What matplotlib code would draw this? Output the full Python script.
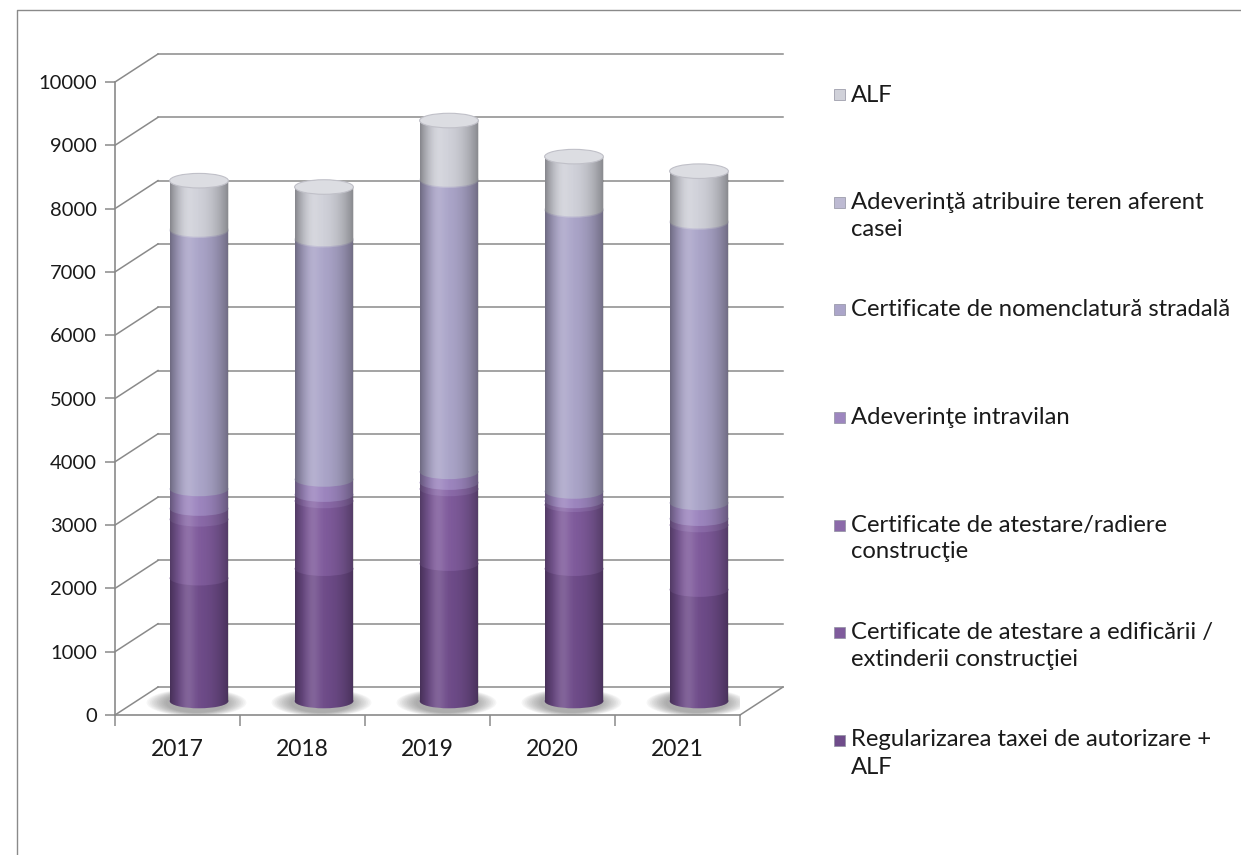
import numpy as np
import matplotlib.pyplot as plt
from matplotlib.patches import Ellipse, Rectangle, PathPatch
from matplotlib.path import Path
from matplotlib.lines import Line2D

plt.rcParams['font.family'] = ['Lato', 'DejaVu Sans']

years = ['2017', '2018', '2019', '2020', '2021']
regularizare = [1940, 2090, 2170, 2090, 1760]
edificare = [930, 1070, 1180, 1010, 1020]
radiere = [170, 100, 100, 60, 100]
intravilan = [310, 240, 170, 150, 250]
nomenclatura = [4080, 3780, 4600, 4440, 4430]
atribuire = [20, 20, 20, 20, 20]
alf = [770, 820, 930, 830, 790]

series = [regularizare, edificare, radiere, intravilan, nomenclatura, atribuire, alf]
labels = ['Regularizarea taxei de autorizare +\nALF',
          'Certificate de atestare a edificării /\nextinderii construcţiei',
          'Certificate de atestare/radiere\nconstrucţie',
          'Adeverinţe intravilan',
          'Certificate de nomenclatură stradală',
          'Adeverinţă atribuire teren aferent\ncasei',
          'ALF']
colors = ['#6f4c8a', '#7f5b9c', '#8b6aa9', '#9d86bf', '#aba5c9', '#bdbad2', '#d0d1d9']
yticks = list(range(0, 10001, 1000))

# pseudo 3d geometry (data units)
DX = 0.344     # depth shift in x
DY = 442       # depth shift in y
EH = 230       # ellipse height of cylinder caps
W = 0.47       # cylinder width

fig = plt.figure(figsize=(12.41, 8.55), dpi=100)
ax = fig.add_axes([115/1241, 140/855, 625/1241, 633/855])
ax.set_facecolor('none')

gcol = '#8a8a8a'
# back wall grid + side wall diagonals
for v in yticks:
    ax.plot([DX, 5 + DX], [v + DY, v + DY], color=gcol, lw=1.1, clip_on=False, zorder=1)
    ax.plot([0, DX], [v, v + DY], color=gcol, lw=1.1, clip_on=False, zorder=1)
ax.plot([5, 5 + DX], [0, DY], color=gcol, lw=1.1, clip_on=False, zorder=1)

xc = np.arange(len(years)) + 0.5 + DX / 2
base = np.full(len(years), DY / 2.0)

# soft shadows under cylinders
for j in range(len(years)):
    for s in np.linspace(1.7, 1.05, 12):
        ax.add_patch(Ellipse((xc[j] - 0.02, base[j] - 25), W * s, EH * (0.6 + s * 0.75),
                             color='#5a5a5a', alpha=0.05, lw=0, zorder=2))

cum = base.copy()
for vals, c in zip(series, colors):
    ax.bar(xc, vals, W, bottom=cum, color=c, lw=0, zorder=3, clip_on=False)
    for j in range(len(years)):
        ax.add_patch(Ellipse((xc[j], cum[j]), W, EH, color=c, lw=0, zorder=3, clip_on=False))
    cum = cum + np.array(vals)

# cylindrical shading
t = np.linspace(0, 1, 128)
d = np.where(t > 0.38, (t - 0.38) / 0.62, (0.38 - t) / 0.38)
dark = np.zeros((1, 128, 4))
dark[..., 3] = 0.36 * d ** 2.3
light = np.ones((1, 128, 4))
light[..., 3] = 0.14 * np.exp(-((t - 0.3) / 0.13) ** 2)
th = np.linspace(np.pi, 2 * np.pi, 40)
for j in range(len(years)):
    x0, x1 = xc[j] - W / 2, xc[j] + W / 2
    pts = [(x0, cum[j]), (x0, base[j])]
    pts += [(xc[j] + W / 2 * np.cos(a), base[j] + EH / 2 * np.sin(a)) for a in th]
    pts += [(x1, cum[j]), (x0, cum[j])]
    clip = PathPatch(Path(pts), transform=ax.transData, facecolor='none', lw=0)
    ax.add_patch(clip)
    for img in (dark, light):
        im = ax.imshow(img, extent=[x0, x1, base[j] - EH / 2, cum[j]], aspect='auto',
                       interpolation='bilinear', zorder=4, clip_on=True)
        im.set_clip_path(clip)
    ax.add_patch(Ellipse((xc[j], cum[j]), W, EH, facecolor='#dcdde2', edgecolor='#c0c0c8',
                         lw=0.8, zorder=5, clip_on=False))

ax.set_xlim(0, 5)
ax.set_ylim(0, 10000)

for s in ['top', 'right']:
    ax.spines[s].set_visible(False)
for s in ['left', 'bottom']:
    ax.spines[s].set_color(gcol)
    ax.spines[s].set_linewidth(1.2)
    ax.spines[s].set_zorder(6)

ax.set_yticks(yticks)
ax.set_yticklabels([str(v) for v in yticks])
ax.tick_params(axis='y', length=7, width=1.1, color=gcol, labelsize=14.5, pad=6, labelcolor='#1a1a1a')
ax.set_xticks(range(6))
ax.set_xticklabels([])
ax.set_xticks(np.arange(len(years)) + 0.5, minor=True)
ax.set_xticklabels(years, minor=True)
ax.tick_params(axis='x', which='major', length=8, width=1.1, color=gcol)
ax.tick_params(axis='x', which='minor', length=0, labelsize=16.5, pad=17, labelcolor='#1a1a1a')

# legend (top entry = top series)
for k, i in enumerate(range(len(series) - 1, -1, -1)):
    yc = 1 - (95 + k * 107.5) / 855
    fig.add_artist(Rectangle((834 / 1241, yc - 5.5 / 855), 11 / 1241, 11 / 855,
                             transform=fig.transFigure, facecolor=colors[i],
                             edgecolor='#9090a0', lw=0.5))
    for n, line in enumerate(labels[i].split('\n')):
        fig.text(851 / 1241, yc - n * 27 / 855, line, fontsize=17.2, va='center',
                 ha='left', color='#1a1a1a')

# outer chart border
fig.add_artist(Line2D([17 / 1241, 17 / 1241, 1.0], [0.0, 1 - 10 / 855, 1 - 10 / 855],
                      transform=fig.transFigure, color='#8a8a8a', lw=1.0))

fig.savefig('out.png', dpi=100)
